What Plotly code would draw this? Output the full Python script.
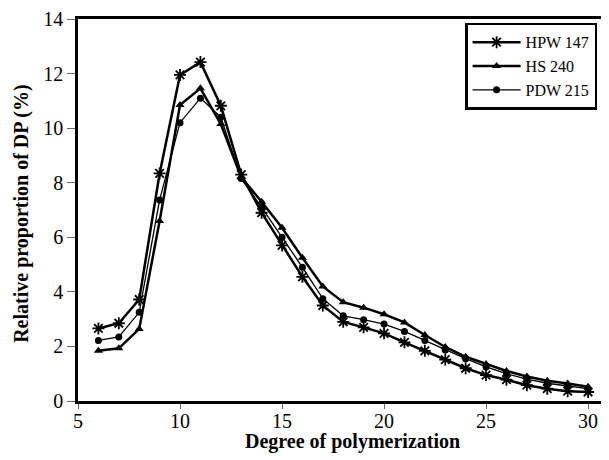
import plotly.graph_objects as go

dp = list(range(6, 31))
hpw_147 = [2.66, 2.85, 3.72, 8.34, 11.95, 12.42, 10.82, 8.30, 6.90, 5.70, 4.55, 3.50, 2.90,
           2.70, 2.48, 2.15, 1.84, 1.52, 1.20, 0.95, 0.78, 0.58, 0.45, 0.36, 0.33]
hs_240 = [1.84, 1.93, 2.64, 6.60, 10.85, 11.46, 10.15, 8.20, 7.30, 6.35, 5.25, 4.20, 3.62,
          3.42, 3.18, 2.88, 2.42, 1.98, 1.62, 1.36, 1.10, 0.90, 0.74, 0.64, 0.52]
pdw_215 = [2.22, 2.35, 3.25, 7.37, 10.20, 11.10, 10.40, 8.15, 7.10, 6.00, 4.90, 3.75, 3.12,
           2.98, 2.82, 2.55, 2.22, 1.87, 1.55, 1.25, 1.00, 0.80, 0.65, 0.55, 0.45]
x_ticks = [5, 10, 15, 20, 25, 30]
y_ticks = [0, 2, 4, 6, 8, 10, 12, 14]

FONT = "Liberation Serif, Times New Roman, serif"

fig = go.Figure()
fig.add_trace(go.Scatter(
    x=dp, y=hpw_147, name="HPW 147", mode="lines+markers",
    line=dict(color="black", width=2.5),
    marker=dict(symbol="asterisk-open", size=10, color="black", line=dict(color="black", width=1.8)),
))
fig.add_trace(go.Scatter(
    x=dp, y=hs_240, name="HS 240", mode="lines+markers",
    line=dict(color="black", width=2.5),
    marker=dict(symbol="triangle-up", size=8, color="black"),
))
fig.add_trace(go.Scatter(
    x=dp, y=pdw_215, name="PDW 215", mode="lines+markers",
    line=dict(color="black", width=1.3),
    marker=dict(symbol="circle", size=7, color="black"),
))

# page has an 8px body margin, so the figure is laid out 8px up/left of the page coordinates
fig.update_layout(
    width=601, height=452,
    margin=dict(l=70, r=4, t=11, b=59, autoexpand=False),
    paper_bgcolor="white", plot_bgcolor="white",
    font=dict(family=FONT, color="black", size=17),
    showlegend=True,
    legend=dict(
        x=0.985, y=0.99, xanchor="right", yanchor="top",
        bgcolor="white", bordercolor="black", borderwidth=2.5,
        font=dict(family=FONT, size=16, color="black"),
        tracegroupgap=0, itemwidth=48,
    ),
    shapes=[dict(type="line", xref="paper", yref="paper", x0=1, x1=1, y0=0, y1=1,
                 line=dict(color="#444444", width=1.5))],
    annotations=[
        dict(text="<b>Degree of polymerization</b>", xref="paper", yref="paper",
             x=0.52, y=0, yshift=-40, xanchor="center", yanchor="middle", showarrow=False,
             font=dict(family=FONT, size=20, color="black")),
        dict(text="<b>Relative proportion of DP (%)</b>", xref="paper", yref="paper",
             x=0, xshift=-56, y=0.49, xanchor="center", yanchor="middle", showarrow=False,
             textangle=-90, font=dict(family=FONT, size=20, color="black")),
    ],
)
fig.update_xaxes(
    range=[5, 30.83], tickvals=x_ticks, ticktext=[str(v) for v in x_ticks],
    showgrid=False, zeroline=False, automargin=False,
    showline=True, linecolor="black", linewidth=2.5, mirror=True,
    ticks="outside", ticklen=5, tickcolor="#666666", tickwidth=1,
    ticklabelstandoff=-5,
    tickfont=dict(family=FONT, size=20, color="black"),
)
fig.update_yaxes(
    range=[0, 14], tickvals=y_ticks, ticktext=[str(v) for v in y_ticks],
    showgrid=False, zeroline=False, automargin=False,
    showline=True, linecolor="black", linewidth=2.5,
    ticks="outside", ticklen=8, tickcolor="#666666", tickwidth=1,
    tickfont=dict(family=FONT, size=20, color="black"),
)

fig.write_html("out.html")
